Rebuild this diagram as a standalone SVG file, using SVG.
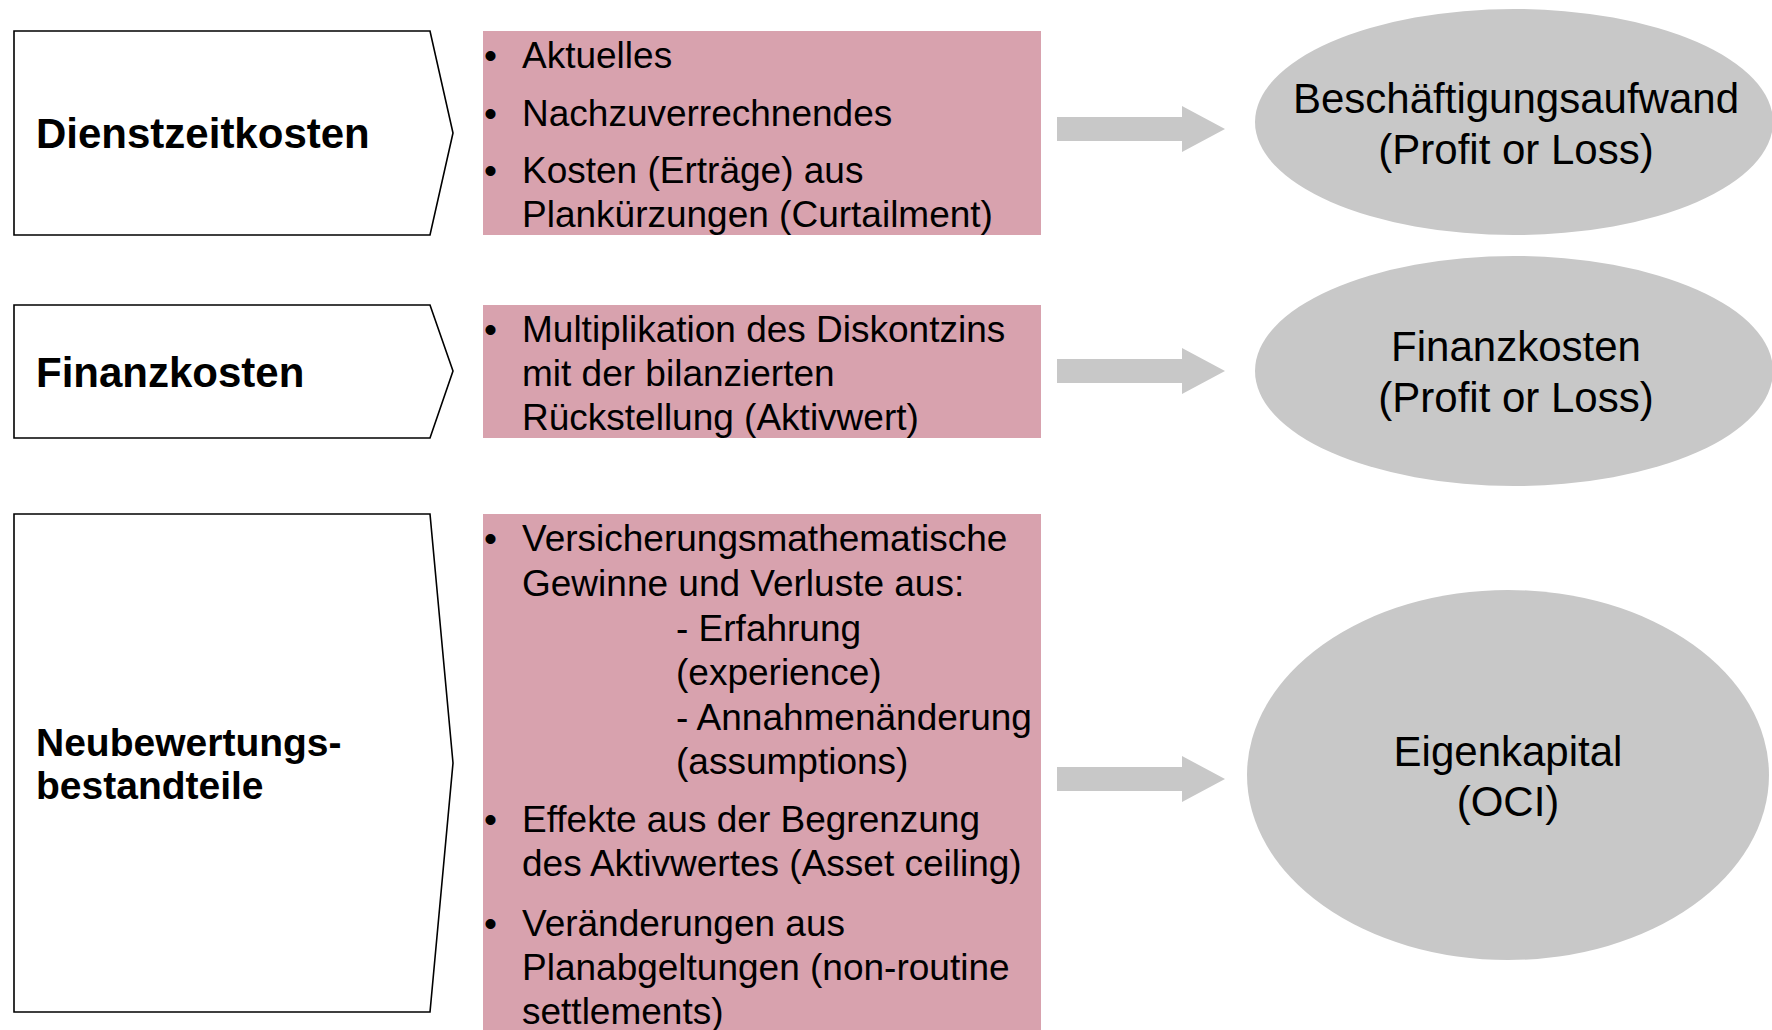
<svg xmlns="http://www.w3.org/2000/svg" width="1772" height="1030" viewBox="0 0 1772 1030">
<defs>
<style>
.pent{fill:#ffffff;stroke:#000000;stroke-width:1.6}
.pink{fill:#d8a2ae}
.ell{fill:#c8c8c8}
.arr{fill:#c8c8c8}
.hd{font-family:"Liberation Sans",Arial,sans-serif;font-weight:bold;font-size:42px;fill:#000}
.hd2{font-family:"Liberation Sans",Arial,sans-serif;font-weight:bold;font-size:39px;fill:#000}
.bt{font-family:"Liberation Sans",Arial,sans-serif;font-size:37px;fill:#000}
.et{font-family:"Liberation Sans",Arial,sans-serif;font-size:42px;fill:#000;text-anchor:middle}
</style>
</defs>
<rect width="1772" height="1030" fill="#ffffff"/>

<g id="node-dienstzeitkosten">
<polygon class="pent" points="14,31 430,31 453,133 430,235 14,235"/>
<text class="hd" x="36" y="148">Dienstzeitkosten</text>
</g>
<g id="node-finanzkosten">
<polygon class="pent" points="14,305 430,305 453,371 430,438 14,438"/>
<text class="hd" x="36" y="387">Finanzkosten</text>
</g>
<g id="node-neubewertung">
<polygon class="pent" points="14,514 430,514 453,763 430,1012 14,1012"/>
<text class="hd2" x="36" y="756">Neubewertungs-</text>
<text class="hd2" x="36" y="799">bestandteile</text>
</g>

<g id="node-details1">
<rect class="pink" x="483" y="31" width="558" height="204"/>
<text class="bt" x="484" y="68">•</text>
<text class="bt" x="522" y="68">Aktuelles</text>
<text class="bt" x="484" y="126">•</text>
<text class="bt" x="522" y="126">Nachzuverrechnendes</text>
<text class="bt" x="484" y="183">•</text>
<text class="bt" x="522" y="183">Kosten (Erträge) aus</text>
<text class="bt" x="522" y="227">Plankürzungen (Curtailment)</text>
</g>
<g id="node-details2">
<rect class="pink" x="483" y="305" width="558" height="133"/>
<text class="bt" x="484" y="342">•</text>
<text class="bt" x="522" y="342">Multiplikation des Diskontzins</text>
<text class="bt" x="522" y="386">mit der bilanzierten</text>
<text class="bt" x="522" y="430">Rückstellung (Aktivwert)</text>
</g>
<g id="node-details3">
<rect class="pink" x="483" y="514" width="558" height="516"/>
<text class="bt" x="484" y="551">•</text>
<text class="bt" x="522" y="551">Versicherungsmathematische</text>
<text class="bt" x="522" y="596">Gewinne und Verluste aus:</text>
<text class="bt" x="676" y="641">- Erfahrung</text>
<text class="bt" x="676" y="685">(experience)</text>
<text class="bt" x="676" y="730">- Annahmenänderung</text>
<text class="bt" x="676" y="774">(assumptions)</text>
<text class="bt" x="484" y="832">•</text>
<text class="bt" x="522" y="832">Effekte aus der Begrenzung</text>
<text class="bt" x="522" y="876">des Aktivwertes (Asset ceiling)</text>
<text class="bt" x="484" y="936">•</text>
<text class="bt" x="522" y="936">Veränderungen aus</text>
<text class="bt" x="522" y="980">Planabgeltungen (non-routine</text>
<text class="bt" x="522" y="1024">settlements)</text>
</g>

<g id="node-beschaeftigungsaufwand">
<ellipse class="ell" cx="1514" cy="122" rx="259" ry="113"/>
<text class="et" x="1516" y="113">Beschäftigungsaufwand</text>
<text class="et" x="1516" y="164">(Profit or Loss)</text>
</g>
<g id="node-finanzkosten-pl">
<ellipse class="ell" cx="1514" cy="371" rx="259" ry="115"/>
<text class="et" x="1516" y="361">Finanzkosten</text>
<text class="et" x="1516" y="412">(Profit or Loss)</text>
</g>
<g id="node-eigenkapital">
<ellipse class="ell" cx="1508" cy="775" rx="261" ry="185"/>
<text class="et" x="1508" y="766">Eigenkapital</text>
<text class="et" x="1508" y="816">(OCI)</text>
</g>

<g id="connectors">
<polygon class="arr" points="1057,117 1182,117 1182,106 1225,129 1182,152 1182,141 1057,141"/>
<polygon class="arr" points="1057,359 1182,359 1182,348 1225,371 1182,394 1182,383 1057,383"/>
<polygon class="arr" points="1057,767 1182,767 1182,756 1225,779 1182,802 1182,791 1057,791"/>
</g>
</svg>
